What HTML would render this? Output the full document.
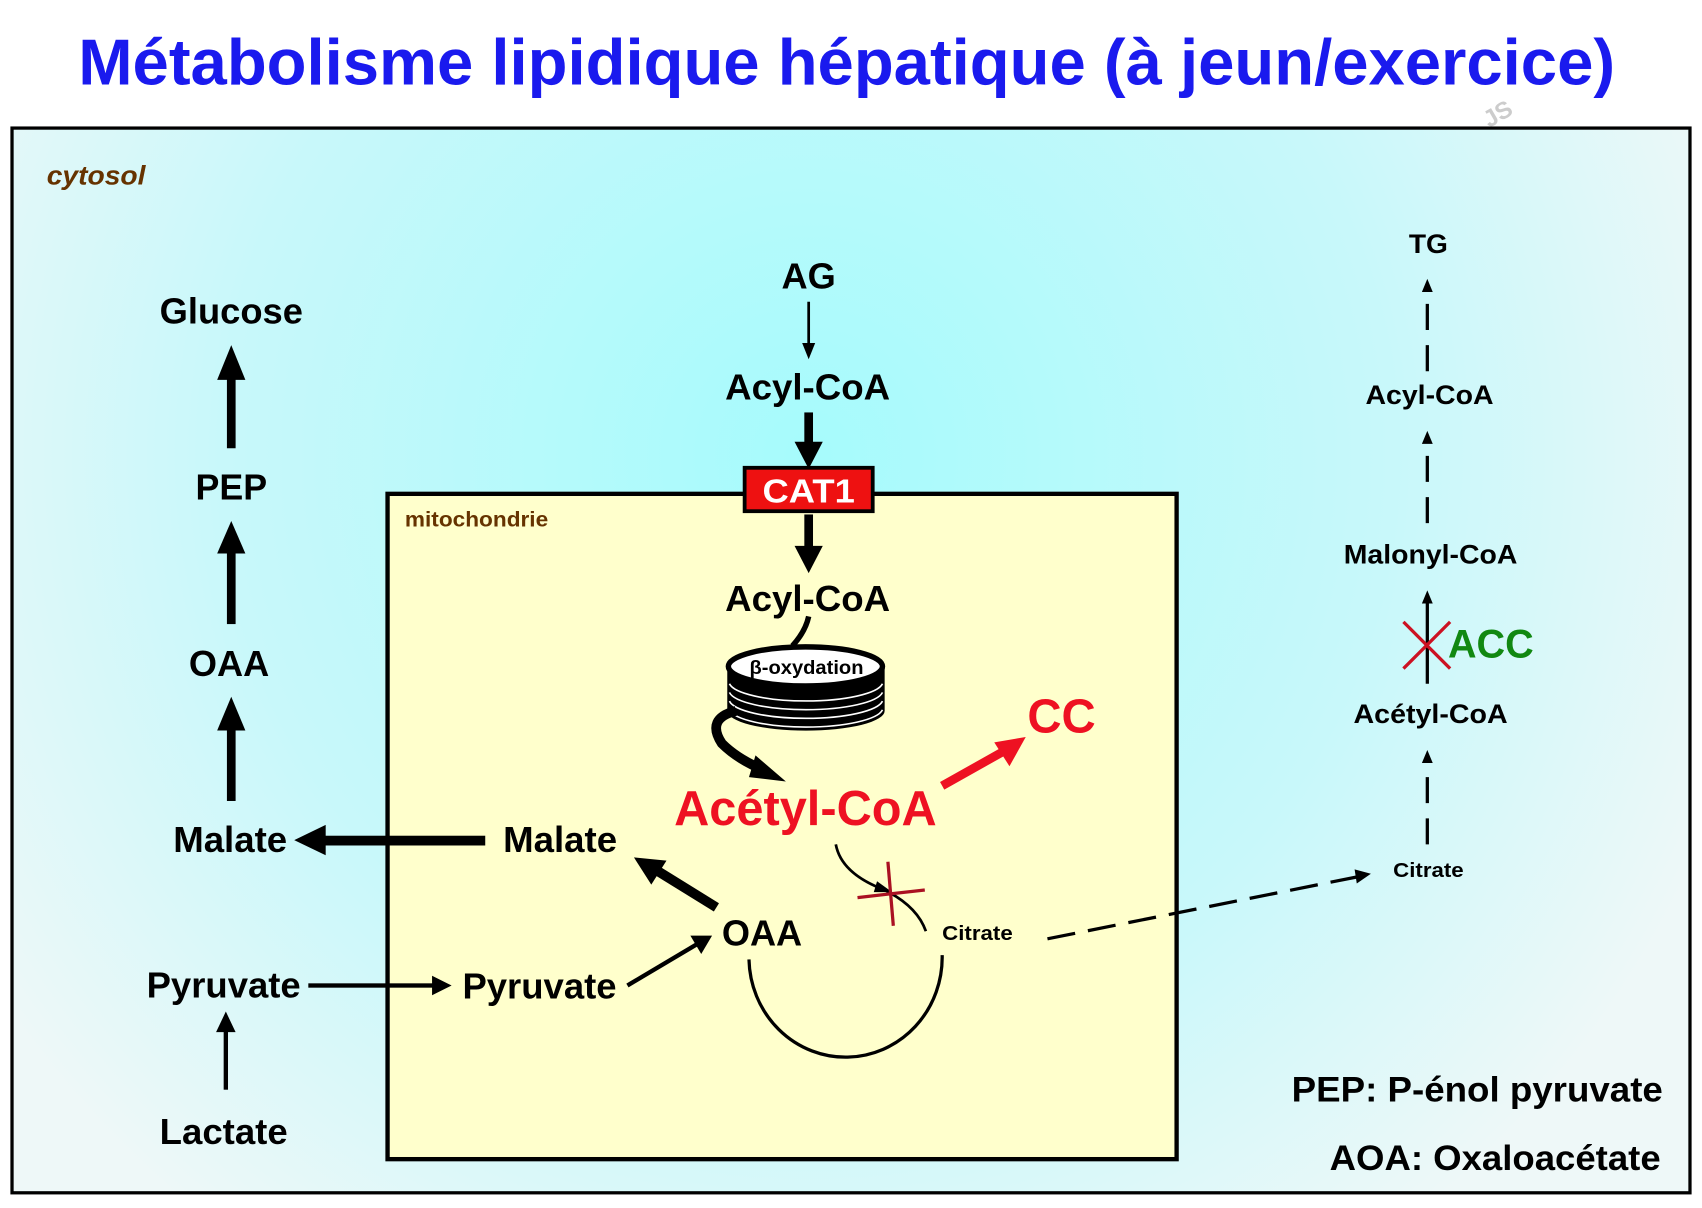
<!DOCTYPE html>
<html><head><meta charset="utf-8"><style>
html,body{margin:0;padding:0;background:#fff;}
svg{display:block;}
text{font-family:"Liberation Sans",Arial,sans-serif;font-weight:bold;}
</style></head><body>
<svg width="1702" height="1208" viewBox="0 0 1568 1113" xmlns="http://www.w3.org/2000/svg">
<defs>
<radialGradient id="cg" cx="745" cy="420" r="900" gradientUnits="userSpaceOnUse">
<stop offset="0" stop-color="#a6fbfc"/>
<stop offset="0.6" stop-color="#c8f8fa"/>
<stop offset="1" stop-color="#eef8f8"/>
</radialGradient>
</defs>
<rect width="1568" height="1113" fill="#fff"/>
<text x="780" y="78" text-anchor="middle" font-size="60" fill="#1a1aee" textLength="1416" lengthAdjust="spacingAndGlyphs">Métabolisme lipidique hépatique (à jeun/exercice)</text>
<text x="1372" y="118" font-size="22" fill="#ccc" transform="rotate(-30 1372 118)" font-weight="normal">JS</text>
<rect x="11" y="118" width="1546" height="981" fill="url(#cg)" stroke="#000" stroke-width="3"/>
<text x="43" y="170" font-size="25" font-style="italic" fill="#663300" textLength="91" lengthAdjust="spacingAndGlyphs">cytosol</text>
<rect x="357" y="455" width="727" height="613" fill="#ffffcc" stroke="#000" stroke-width="4"/>
<text x="373" y="485" font-size="20" fill="#663300" textLength="132" lengthAdjust="spacingAndGlyphs">mitochondrie</text>

<g font-size="33" fill="#000" text-anchor="middle" lengthAdjust="spacingAndGlyphs">
<text x="213" y="298" textLength="132" lengthAdjust="spacingAndGlyphs">Glucose</text>
<text x="213" y="460" textLength="66" lengthAdjust="spacingAndGlyphs">PEP</text>
<text x="211" y="623" textLength="74" lengthAdjust="spacingAndGlyphs">OAA</text>
<text x="212" y="785" textLength="105" lengthAdjust="spacingAndGlyphs">Malate</text>
<text x="516" y="785" textLength="105" lengthAdjust="spacingAndGlyphs">Malate</text>
<text x="206" y="919" textLength="142" lengthAdjust="spacingAndGlyphs">Pyruvate</text>
<text x="497" y="920" textLength="142" lengthAdjust="spacingAndGlyphs">Pyruvate</text>
<text x="206" y="1054" textLength="118" lengthAdjust="spacingAndGlyphs">Lactate</text>
<text x="702" y="871" textLength="74" lengthAdjust="spacingAndGlyphs">OAA</text>
<text x="745" y="266" textLength="50" lengthAdjust="spacingAndGlyphs">AG</text>
<text x="744" y="368" textLength="152" lengthAdjust="spacingAndGlyphs">Acyl-CoA</text>
<text x="744" y="563" textLength="152" lengthAdjust="spacingAndGlyphs">Acyl-CoA</text>
</g>

<g fill="#000">
<rect x="209" y="345" width="8" height="68"/><path d="M200,350 L213,318 L226,350 z"/>
<rect x="209" y="505" width="8" height="70"/><path d="M200,510 L213,480 L226,510 z"/>
<rect x="209" y="668" width="8" height="70"/><path d="M200,673 L213,642 L226,673 z"/>
<rect x="295" y="770" width="152" height="9"/><path d="M300,760 L271,774 L300,788 z"/>
<rect x="284" y="906" width="115" height="4"/><path d="M398,899 L416,908 L398,917 z"/>
<rect x="206" y="950" width="4" height="54"/><path d="M199,951 L208,932 L217,951 z"/>
</g>
<line x1="578" y1="908" x2="642" y2="870" stroke="#000" stroke-width="4"/>
<path d="M636,862 L656,862 L646,879 z" fill="#000"/>
<line x1="660" y1="836" x2="605" y2="802" stroke="#000" stroke-width="9"/>
<path d="M584,790 L614,793 L600,815 z" fill="#000"/>

<line x1="745" y1="278" x2="745" y2="318" stroke="#000" stroke-width="2.5"/>
<path d="M739,316 L745,331 L751,316 z" fill="#000"/>
<rect x="741" y="380" width="8" height="30"/><path d="M732,407 L745,432 L758,407 z" fill="#000"/>
<rect x="741" y="474" width="8" height="32" fill="#000"/><path d="M732,503 L745,528 L758,503 z" fill="#000"/>

<rect x="686" y="431" width="118" height="40" fill="#ee1111" stroke="#000" stroke-width="3.5"/>
<text x="745" y="463" text-anchor="middle" font-size="31" fill="#fff" textLength="85" lengthAdjust="spacingAndGlyphs">CAT1</text>

<path d="M745,568 Q742,582 730,595" fill="none" stroke="#000" stroke-width="5"/>
<path d="M670,615 L670,655 A72,18 0 0 0 815,655 L815,615 z" fill="#000"/>
<g stroke="#fff" stroke-width="1.5" fill="none">
<path d="M672,630 A71,18 0 0 0 813,630"/>
<path d="M672,638 A71,18 0 0 0 813,638"/>
<path d="M672,646 A71,18 0 0 0 813,646"/>
<path d="M672,654 A71,18 0 0 0 813,654"/>
</g>
<ellipse cx="742" cy="614" rx="71" ry="18" fill="#fff" stroke="#000" stroke-width="5"/>
<text x="743" y="621" text-anchor="middle" font-size="18" fill="#000" textLength="105" lengthAdjust="spacingAndGlyphs">β-oxydation</text>
<path d="M678,655 Q650,662 665,685 Q680,700 705,710" fill="none" stroke="#000" stroke-width="9"/>
<path d="M696,696 L724,720 L690,716 z" fill="#000"/>

<text x="742" y="760" text-anchor="middle" font-size="45" fill="#ee1122" textLength="242" lengthAdjust="spacingAndGlyphs">Acétyl-CoA</text>
<text x="978" y="675" text-anchor="middle" font-size="44" fill="#ee1122" textLength="63" lengthAdjust="spacingAndGlyphs">CC</text>
<line x1="868" y1="724" x2="925" y2="692" stroke="#ee1122" stroke-width="8"/>
<path d="M945,679 L930,706 L916,684 z" fill="#ee1122"/>

<path d="M770,778 Q775,805 815,820 Q845,835 853,858" fill="none" stroke="#000" stroke-width="2.5"/>
<path d="M808,812 L822,822 L805,822 z" fill="#000"/>
<line x1="790" y1="827" x2="852" y2="820" stroke="#aa1122" stroke-width="3"/>
<line x1="818" y1="794" x2="823" y2="853" stroke="#aa1122" stroke-width="3"/>
<text x="868" y="866" font-size="19" fill="#000" textLength="65" lengthAdjust="spacingAndGlyphs">Citrate</text>
<path d="M690,884 A89,92 0 1 0 868,880" fill="none" stroke="#000" stroke-width="3"/>
<line x1="965" y1="865" x2="1250" y2="808" stroke="#000" stroke-width="3" stroke-dasharray="26,12"/>
<path d="M1248,801 L1263,805 L1250,814 z" fill="#000"/>

<g font-size="25" fill="#000" text-anchor="middle">
<text x="1316" y="233" textLength="36" lengthAdjust="spacingAndGlyphs">TG</text>
<text x="1317" y="372" textLength="118" lengthAdjust="spacingAndGlyphs">Acyl-CoA</text>
<text x="1318" y="519" textLength="160" lengthAdjust="spacingAndGlyphs">Malonyl-CoA</text>
<text x="1318" y="666" textLength="142" lengthAdjust="spacingAndGlyphs">Acétyl-CoA</text>
<text x="1316" y="808" font-size="19" textLength="65" lengthAdjust="spacingAndGlyphs">Citrate</text>
</g>
<g stroke="#000" stroke-width="3" stroke-dasharray="24,14">
<line x1="1315" y1="778" x2="1315" y2="702"/>
<line x1="1315" y1="482" x2="1315" y2="408"/>
<line x1="1315" y1="342" x2="1315" y2="268"/>
</g>
<g fill="#000">
<path d="M1310,703 L1315,691 L1320,703 z"/>
<path d="M1310,409 L1315,397 L1320,409 z"/>
<path d="M1310,269 L1315,257 L1320,269 z"/>
<path d="M1310,556 L1315,544 L1320,556 z"/>
</g>
<line x1="1315" y1="630" x2="1315" y2="553" stroke="#000" stroke-width="3"/>
<line x1="1293" y1="573" x2="1336" y2="616" stroke="#cc1122" stroke-width="3"/>
<line x1="1293" y1="616" x2="1336" y2="573" stroke="#cc1122" stroke-width="3"/>
<text x="1334" y="606" font-size="37" fill="#118811" textLength="79" lengthAdjust="spacingAndGlyphs">ACC</text>

<text x="1532" y="1015" text-anchor="end" font-size="32" fill="#000" textLength="342" lengthAdjust="spacingAndGlyphs">PEP: P-énol pyruvate</text>
<text x="1530" y="1078" text-anchor="end" font-size="32" fill="#000" textLength="305" lengthAdjust="spacingAndGlyphs">AOA: Oxaloacétate</text>
</svg>
</body></html>
